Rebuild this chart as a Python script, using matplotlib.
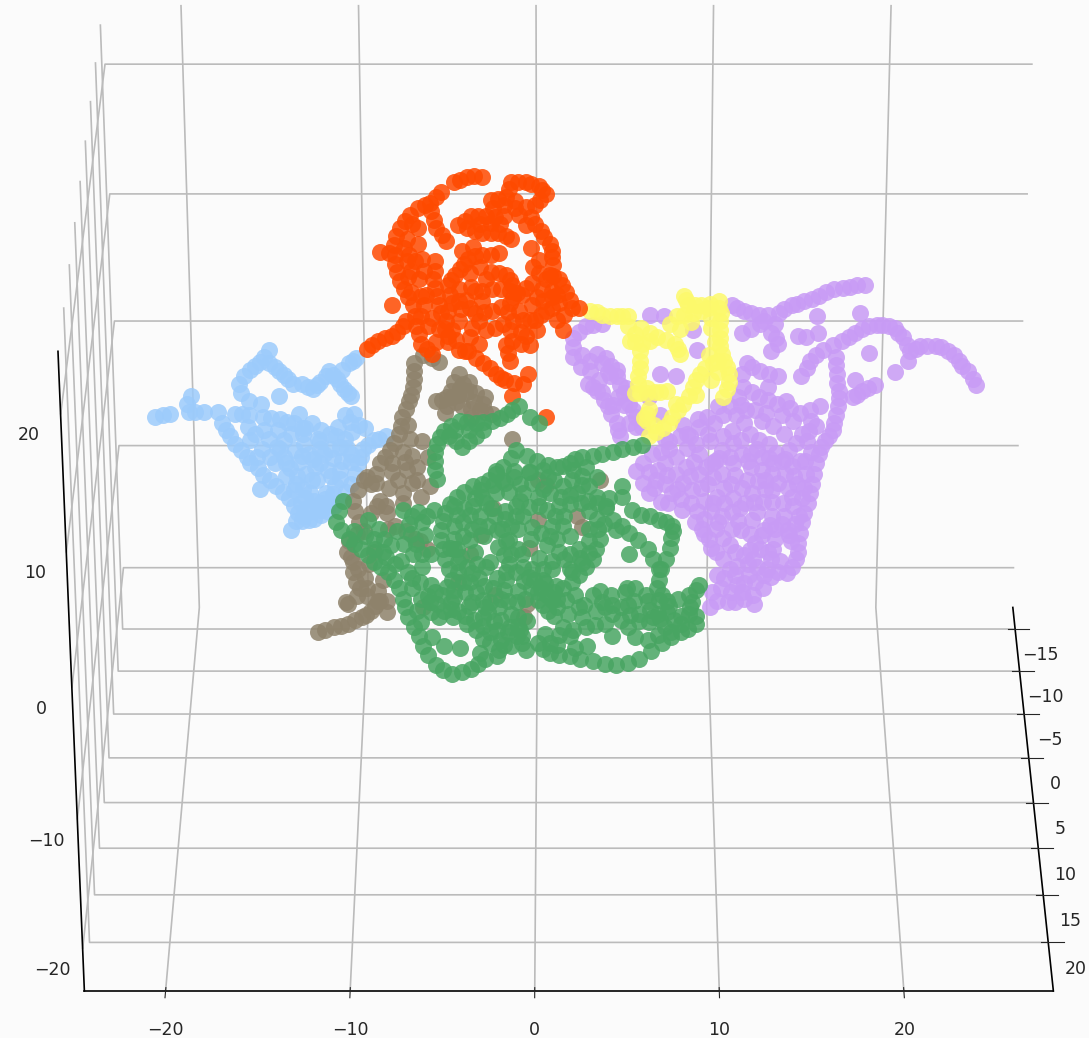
import matplotlib
matplotlib.use("Agg")
import matplotlib.pyplot as plt
import numpy as np

BG = "#fbfbfb"
x_ticks = [-20, -10, 0, 10, 20]
y_ticks = [-15, -10, -5, 0, 5, 10, 15, 20]
z_ticks = [-20, -10, 0, 10, 20]
plane_y = 0.0  # depth can't be read from one view, keep all points on one plane

# (x, z)
blue = [(-21.1,3.7),(-20.3,3.9),(-19.2,4.1),(-19.1,5.3),(-19.3,4.7),(-18.4,4.1),(-17.6,4.1),(-16.7,3.9),(-15.9,3.8),
        (-15.1,3.7),(-14.2,3.5),(-13.4,3.2),(-12.8,2.8),(-14.7,8.8),(-15.2,7.9),(-15.8,7.3),(-16.4,6.2),(-16.3,5.5),
        (-15.9,4.9),(-15.2,4.7),(-14.7,7.8),(-14.2,7.2),(-13.7,6.6),(-13.4,6.2),(-12.9,6.2),(-12.3,5.8),(-11.9,6.4),
        (-11.4,7.2),(-11,6.6),(-10.6,5.8),(-10.2,5.3),(-10.3,7.8),(-9.9,8.2),(-14.2,5.3),(-17.4,3.2),(-17,2.2),
        (-16.4,1.1),(-15.9,0.1),(-15.2,-0.8),(-14.5,-1.7),(-13.8,-2.6),(-13.3,-3.8),(-13.7,-5.1),(-13.1,-4.4),
        (-12.4,-4.2),(-11.7,-3.6),(-11,-2.8),(-10.3,-1.5),(-9.9,0.1),(-9.6,1.2),(-9,1.9),(-8.3,2.2),(-9.5,2.8),
        (-10.3,3.3),(-10.6,3.8),(-10.1,3.9),(-13.1,3.9),(-12.9,2.4),(-12.1,2),(-11.4,2.4),(-10.6,2),(-14.8,2),
        (-14.2,1.2),(-13.4,1.1),(-12.6,0.8),(-15.6,2.4),(-15.2,1.2),(-14.5,0.1),(-13.7,-0.3),(-12.8,-0.7),(-12,0.1),
        (-11.3,0.5),(-10.3,0.8),(-13.4,-1.5),(-12.6,-2.2),(-11.7,-2.2),(-10.9,-1.1),(-12.8,-3.4),(-12,-3),(-15.4,-1.9),
        (-11.4,1.2),(-20.7,3.8),(-18.9,4.1),(-16.3,3.9),(-14.7,3.6),(-13.8,3.3),(-15,8.3),(-15.5,7.6),(-16.1,6.8),
        (-14.4,7.5),(-13.9,6.9),(-12.6,6),(-12.1,6.1),(-11.6,6.8),(-11.2,6.9),(-10.8,6.2),(-10.4,5.5),(-10.1,8),(-10.7,7.3),
        (-17.2,2.7),(-16.7,1.6),(-16.1,0.6),(-15.5,-0.3),(-14.8,-1.2),(-14.1,-2.1),(-13.5,-3.2),(-13.4,-4.4),(-12.7,-4.3),
        (-12,-3.9),(-11.3,-3.2),(-10.6,-2.1),(-10.1,-0.7),(-9.7,0.6),(-9.3,1.5),(-8.7,2),(-9.8,3.1),(-11,2.9),(-12.4,3.2),
        (-13.6,2.4),(-14.3,2.7),(-15.1,2.7),(-16,2.9),(-15.9,1.9),(-14.8,0.6),(-14,0.6),(-13.2,0.2),(-12.3,-0.2),(-11.6,-0.4),
        (-10.8,0.3),(-10.5,1.3),(-12,1.2),(-12.9,1.6),(-13.9,-0.9),(-13,-1.9),(-12.2,-1.2),(-11.2,-1.6),(-13.1,-3),(-12.4,-2.8),
        (-11.6,-3),(-12.6,-3.6),(-11.8,-2.7),(-13.3,-0.9),(-12.4,0.4),(-11.8,0.8),(-13,0.7),(-13.9,0.1),(-14.4,1.4),(-15.5,0.6),
        (-13.5,-2),(-12.5,-1.2),(-11.4,-0.9),(-10.9,-0.4),(-10.3,0.2),(-12.2,-3.4),(-11.3,-2.3),(-12.9,-2.6),(-13,-4),(-12,-3.5),
        (-11.1,2.2),(-10.2,2.5),(-11.9,2.7),(-13,2.8),(-14,1.9),(-12,1.8),(-10.9,1.4)]

red = [(-2.9,21.8),(-3.7,21.8),(-4.4,21.4),(-5.1,20.7),(-5.7,19.9),(-6.4,19.5),(-7.1,18.5),(-7.6,17.4),(-7.7,16),
       (-7.6,14.7),(-7.2,13.4),(-6.7,12.2),(-6.6,10.6),(-6.3,9.3),(-5.7,8.5),(-5.7,19.3),(-5.4,18),(-4.9,17),(-8.5,16.2),
       (-7.9,12.2),(-9.3,8.9),(-8.7,9.5),(-7.9,9.9),(-7.3,10.6),(-5.5,15.5),(-5.6,14.2),(-5.4,12.9),(-5.2,11.6),(-4.8,11.8),
       (-4.6,10.3),(-4.2,8.8),(-3.7,8.7),(-2.9,7.8),(-2.2,7),(-1.7,6.5),(-0.7,6.2),(-1.3,5.3),(-0.4,7),(-4.2,18.2),(-3.5,18.9),
       (-2.7,18.9),(-2.2,18.8),(-2.4,20.1),(-1.6,20.3),(-1.3,21.4),(-0.5,21.4),(0.2,21.1),(0.6,20.5),(0,19.7),(-1.1,19.5),
       (-0.2,18.8),(0.3,17.8),(0.8,16.8),(0.9,15.8),(0.2,15.6),(-0.2,16.5),(0.8,14.5),(1.3,14.2),(1.7,13.2),(2,12),(2.4,12),
       (1.5,10.3),(1.2,11.1),(0.6,14.2),(-2.9,17.6),(-3.7,18),(-2,17.6),(-1.3,17.2),(-2.9,16),(-3.7,15.7),(-4.1,14.9),(-2,16.1),
       (-2.4,14.7),(-1.6,14.5),(-1.3,13.7),(-3.3,13.3),(-2.4,13.4),(-1.4,13.3),(-0.7,13),(-0.2,13.9),(-3.8,12.6),(-4.6,12.4),
       (-4.8,13.7),(-4.4,14.5),(-1.8,10.8),(-2.7,10.3),(-0.7,11.1),(0,11.1),(0.6,11.8),(-0.2,12.2),(-3.3,11.6),(-2.4,11.8),
       (-1.4,12.4),(-1.3,9.5),(-1.6,9.2),(-0.3,9.2),(-1.4,8),(0.1,10.3),(-6.1,12.2),(-5.9,10.6),(-6.6,15.5),(-6.4,14.2),
       (-7,15.5),(-6.3,12.9),(0.6,3.7),(-3.3,21.9),(-4.1,21.6),(-5.4,20.3),(-6,19.7),(-6.8,19),(-7.4,18),(-7.7,16.7),(-7.7,15.3),
       (-7.4,14),(-7,12.8),(-6.6,11.4),(-6.4,10),(-6,8.9),(-5.5,18.6),(-5.1,17.5),(-8,16.1),(-9,9.2),(-8.3,9.7),(-7.6,10.2),(-7.1,11),
       (-5.5,14.8),(-5.5,13.5),(-5.3,12.2),(-4.4,9.6),(-3.9,8.7),(-3.3,8.2),(-2.5,7.4),(-1.9,6.7),(-1.2,6.3),(-3.8,18.5),(-3.1,18.9),
       (-2.3,19.5),(-2,20.2),(-1.4,20.9),(-0.9,21.4),(-0.2,21.3),(0.4,20.8),(0.3,20.1),(-0.5,19.6),(-1.7,19.7),(0,18.3),(0.5,17.3),
       (0.9,16.3),(1,15.2),(1,14.4),(1.5,13.7),(1.9,12.6),(1.6,11.5),(0.9,12),(0.9,13.3),(0.2,14.6),(-3.3,17.8),(-2.4,17.6),(-1.6,17.4),
       (-3.3,15.9),(-3.9,15.3),(-2.4,16),(-2,14.6),(-1.4,14.1),(-2.9,13.3),(-1.9,13.4),(-1,13.1),(-0.5,13.5),(-4.2,12.5),(-4.7,13),(-4.6,14.1),
       (-2.2,10.5),(-1.2,11),(-0.3,11.1),(0.3,11.5),(-2.8,11.7),(-1.9,12.1),(-1.5,8.6),(-0.8,9.3),(-0.8,10.2),(-6.3,11.4),(-6,13),(-6.1,14.8),
       (-6.8,13.2),(-7,14.3),(-6.9,16),(-6.4,16.8),(-4,16.3),(-3.6,14.6),(-4.2,11),(-5,10.4),(-3.6,9.8),(-3.1,9.3),(-4.8,9.4),(-3.5,10.5),
       (-6.7,18.3),(-7,17.2),(-6.4,18),(-7.2,16.5),(-6.8,14.8),(-6.2,15.7),(-4.8,9.9),(-5.5,9.4),(-5.3,10.4),(-5.7,11.2),(-4.9,11),(-4.1,11.9),
       (-3.6,12),(-2.9,12.5),(-3.1,11),(-1.5,11.7),(-0.9,11.8),(-1.4,10.3),(-0.5,9.9),(-3.5,13.6),(-4.2,13.4),(-2.7,14.2),(-3,15.1),(-3.4,16.6),
       (-1.2,12.8),(0.1,12.8),(0.4,13.4),(0.4,12.5),(-1.9,18.3),(-2.4,18.4),(-1.7,18.9),(-0.9,19),(-0.5,18.2),(-3,18.3),(-1.1,20),(0.9,12.8),
       (1.3,12.4),(1.2,13),(-0.1,15.1)]

yellow = [(3,11.8),(3.7,11.5),(4.5,11.4),(5.1,11.4),(8.2,12.9),(8.4,12.2),(9.1,12.2),(10.1,12.5),(10.2,11.6),(10.2,10.3),
          (10.2,9.1),(10.4,8),(10.7,7),(10.6,5.8),(7.8,11.4),(8.7,11.6),(9.5,12),(5.8,10.5),(5.2,9.5),(5.9,9.3),(6.7,9.8),
          (7.7,9.3),(8,8.5),(5.8,8),(5.7,6.8),(5.8,5.5),(6.6,5.6),(7.3,5.7),(6.3,2.2),(7.1,2.8),(7.6,3.7),(8.2,4.7),(8.7,6),
          (9.1,7),(9.8,7.8),(6.2,3.9),(6.2,3.4),(7.8,4.7),(3.4,11.7),(4.1,11.4),(4.8,11.4),(8.3,12.6),(8.8,12.2),(9.6,12.3),(10.1,12),
          (10.2,11),(10.2,9.7),(10.3,8.5),(10.6,7.5),(10.7,6.4),(10.4,5.2),(8.2,11.5),(9.1,11.8),(5.5,10),(5.5,9.4),(6.3,9.5),(7.2,9.6),
          (7.9,8.9),(5.8,8.7),(5.8,7.4),(5.7,6.2),(6.2,5.5),(6.9,5.6),(6.7,2.5),(7.4,3.2),(7.9,4.2),(8.5,5.3),(8.9,6.5),(9.4,7.4),(10.1,8),
          (9.6,8.4),(9.9,9.4),(9.7,10.5),(9.7,11.2),(8,10.4),(8.6,10.9),(7.4,10.8),(6.3,10.1),(5.1,10.6),(6,3.6),(6.6,3.1),(6.3,4.3),(5.5,5.5),
          (6.2,5.9),(8.9,5.4),(9.7,6.5),(10.1,7.1)]

brown = [(-12.3,-13.2),(-11.4,-12.8),(-10.6,-12.5),(-9.8,-12),(-9.3,-11.5),(-8.9,-10.7),(-10.6,-10.9),(-10.1,-10.3),(-8.4,-10.7),
         (-10.3,-8.4),(-10.6,-6.8),(-10.1,-9.2),(-8.9,-9.9),(-9.6,-1.2),(-10.2,-2.8),(-9.9,-4.5),(-9.2,-1.5),(-8.7,0.1),(-8.1,1.1),
         (-7.6,2.4),(-7.4,3.7),(-7,4.9),(-6.8,6),(-6.7,7.8),(-6.2,8.4),(-5.3,7.9),(-4.6,5.2),(-3.7,5.7),(-2.8,5.2),(-4.1,4.5),
         (-3.1,4.2),(-2.4,3.9),(-5.5,4.9),(-4.9,5.2),(-4.2,7),(-3.7,6.4),(-6.3,1.8),(-6.6,-0.2),(-5.9,-1.7),(-7.7,-1.2),(-8.7,-2.8),
         (-7.9,-4.8),(-6.8,-5.8),(-6.1,-6.6),(-10.3,-7.6),(-9.6,-8.9),(-8.8,-10.7),(-8.4,-11.6),(-10.7,-10.8),(-6.4,-11.2),(-3.1,-5.5),
         (-0.4,-6.5),(0.1,-4.3),(0.6,-1.6),(3.6,-1.2),(2.3,-4),(2.6,-4.9),(-2.3,-10.2),(-0.5,-10.9),(-0.7,-12),(-2.4,-3.4),(-3.7,-7),
         (-1.3,2),(0.1,-1.2),(-4.4,-9.2),(-11.9,-13),(-11,-12.7),(-10.2,-12.2),(-9.6,-11.8),(-9.1,-11.1),(-9.5,-10.3),(-9.9,-9.7),(-10.4,-7.2),
         (-10.5,-6),(-10,-5.4),(-10.1,-3.6),(-9.9,-2),(-9.4,-1),(-8.9,-0.7),(-8.4,0.6),(-7.9,1.7),(-7.5,3),(-7.2,4.3),(-6.9,5.4),(-6.7,6.6),
         (-6.7,7.2),(-5.7,8.2),(-4.3,5.4),(-3.3,5.5),(-4.4,4.8),(-3.6,4.3),(-2.8,4.1),(-5.2,5),(-4,6.2),(-3.9,5.5),(-4.9,4.5),(-7.4,1),(-7,2),
         (-7.2,-0.4),(-6.9,0.7),(-8.2,-1.8),(-8.9,-1.4),(-9.2,-3.8),(-8.3,-3.8),(-7.4,-3),(-6.4,-2.5),(-8.3,-5),(-7.3,-5.2),(-6.5,-6),(-9.1,-6.8),
         (-9.4,-7.8),(-10,-8.2),(-9.5,-9.7),(-8.6,-9),(-6,0.6),(-7.1,3.1),(-9.6,-5.2),(-8.9,-3.2),(-8,-0.6),(-7.3,0.2),(-8,0.1),(-6.9,-1.4),(-7.4,-2.2),
         (-6.6,-1.2),(-8.4,-3.2),(-3.4,4.8),(-2.9,4.7),(-4.7,5.7),(-4.2,5.9),(-4.5,6.4),(-5,4),(-3.6,3.6)]

green = [(-0.9,4.5),(-1.6,3.9),(-2.4,3.4),(-3.3,3.2),(-4.2,3.4),(-5.1,2.6),(-5.5,1.6),(-5.6,0.3),(-5.5,-1.1),(-4.8,2.2),(-4.1,1.4),
         (-3.3,2.2),(-0.3,3.7),(0.2,3.2),(5.9,1.5),(4.8,1.2),(3.7,0.8),(2.6,0.6),(1.9,0.1),(1.2,-0.2),(0.1,0.3),(-1.1,1.1),(-1.8,-0.2),
         (-2.6,-1.2),(-3.5,-1.7),(-4.4,-2.5),(-5.1,-3.8),(-5.3,-5.1),(-5.2,-6.6),(-4.9,-8.2),(-4.1,-9.2),(2.6,-0.9),(3.4,-2.5),(4.3,-4.3),
         (5.2,-5.3),(6.3,-6.6),(6.9,-8.2),(6.8,-9.7),(7.1,-10.2),(4.8,-1.7),(4.8,-2.5),(5.9,-3.9),(6.9,-4.3),(7.6,-4.8),(7.6,-5.7),(7.3,-7.4),
         (3.6,-5.8),(3.2,-7.4),(2.4,-8.6),(1.5,-9.7),(0.6,-10.2),(-0.3,-9.7),(-1.1,-8.4),(-1.8,-7.1),(1.5,-1.7),(1.3,-3.2),(0.9,-4.8),(0.6,-6.3),
         (-0.2,-8.2),(-1.1,-3.2),(-1.4,-4.8),(-3.5,-3.2),(-4.1,-4.5),(-4.6,-5.8),(0.1,-2.5),(-2.2,-2.2),(-0.9,-1.5),(-3.3,-7.8),(-2.2,-8.9),
         (-3.7,-9.2),(-11.2,-4.5),(-10.8,-2.8),(-10.5,-5.8),(-9.8,-6.6),(-9.1,-7.6),(-8.3,-8.4),(-7.7,-9.7),(-7.4,-11.2),(-6.9,-12.8),(-6.4,-14.3),
         (-5.7,-15.8),(-4.8,-16.5),(-3.7,-16.1),(-2.9,-15.3),(-9.4,-4.3),(-8.1,-6.3),(-7.4,-3.5),(-6.4,-4.5),(-5.7,-3.5),(-9.1,-5.8),(-7,-8.9),
         (-5.3,-10.2),(-4.4,-11.5),(-3.5,-12.2),(-2.6,-13.2),(-1.4,-14.3),(-2,-12.2),(-1.1,-13.5),(-2.2,-15.1),(-2.6,-14),(-5.2,-11.5),(-5.9,-9.4),
         (-1.6,-13.2),(-5.2,-14.3),(-5.9,-13.6),(-4.3,-14.4),(0.1,-14),(0.8,-14.8),(1.9,-15.1),(3.2,-15.5),(4.5,-15.8),(5.8,-15.3),(7.1,-14),
         (8.2,-13.2),(9,-12.5),(8.6,-11.7),(7.8,-12.2),(7.4,-10.7),(8.6,-10.2),(9.2,-9.4),(6.3,-10.7),(5.8,-11.7),(4.3,-11.7),(3.2,-10.2),(2.4,-11.2),
         (2.8,-12.8),(1.5,-12.8),(5.6,-9.7),(5.1,-9.7),(6.9,-11.7),(5.2,-12.8),(4.3,-13.5),(7.6,-13.2),(6.3,-13.8),(3.6,-9.9),(3.9,-11.2),(0.8,-14),
         (1.9,-13.5),(-1.6,-10.7),(-1.4,-11.7),(1.2,-11.2),(-2.2,-5.1),(-0.3,-5.8),(0.4,-8.2),(1.9,-8.2),(2.4,-6.6),(1.3,-6.8),(-2.6,-7.6),(-4.4,-7.6),
         (-2.7,-4.8),(-3.1,-4),(-0.7,-4),(2.3,-2.2),(2,-1.2),(3.9,-3.2),(4.5,-5.1),(-0.7,-2.2),(0.6,-3.5),(-2.2,-0.5),(5.2,-7),
         (-1.3,4.2),(-2,3.6),(-2.9,3.3),(-3.8,3.3),(-4.7,3),(-5.3,2.1),(-5.6,1),(-5.6,-0.4),(-4.4,1.8),(-3.7,1.8),(-2.9,2.7),(-3.7,2.7),(-4.5,2.7),
         (5.4,1.4),(4.3,1),(3.2,0.7),(2.2,0.4),(1.5,-0.1),(0.7,0),(-0.5,0.7),(-1.4,0.5),(-2.2,-0.7),(-3,-1.5),(-4,-2.1),(-4.8,-3.1),(-5.2,-4.4),(-5.3,-5.9),
         (-5.1,-7.4),(3,-1.7),(3.9,-3.4),(4.8,-4.8),(5.7,-5.9),(6.6,-7.4),(6.9,-9),(5.4,-3.5),(6.4,-4),(7.3,-4.5),(7.7,-5.2),(7.5,-6.5),(7,-8.2),
         (3.5,-5),(3.4,-6.6),(2.8,-8),(2,-9.2),(1,-10),(0.1,-10),(-0.7,-9.1),(-1.5,-7.8),(-2.1,-6.4),(1.4,-2.5),(1.1,-4),(0.8,-5.6),(0.2,-7.3),(-0.1,-9),
         (-11,-3.6),(-10.9,-5.1),(-10.2,-6.2),(-9.4,-7.1),(-8.7,-8),(-8,-9),(-7.5,-10.5),(-7.2,-12),(-6.6,-13.5),(-6.1,-15),(-5.3,-16.2),(-4.2,-16.4),(-3.3,-15.7),
         (-8.8,-5),(-8.6,-6.8),(-7.8,-5.2),(-6.9,-4),(-6.1,-4),(-7.6,-7.5),(-6.5,-9.2),(-6.1,-10.3),(-4.8,-10.8),(-4,-11.9),(-3,-12.7),(-2,-13.8),(-0.8,-14),
         (-1.5,-12.8),(-2.7,-11.6),(-3.6,-10.8),(-4.6,-9.8),(-3,-13.7),(-3.2,-14.8),(-2.1,-14.6),(-0.9,-13),(-1,-12),(-2.6,-10.8),(-3.4,-10),(-6.4,-8),(-6.9,-7),
         (-7,-5.4),(-6.2,-5.5),(-5.9,-7),(-6,-10.8),(-5.5,-12),(0.4,-14.5),(1.3,-15),(2.5,-15.3),(3.9,-15.7),(5.2,-15.6),(6.5,-14.7),(7.6,-13.6),(8.6,-12.9),(9,-11.9),
         (8.2,-11.9),(8,-10.5),(9,-9.8),(6.9,-10.6),(5.5,-10.7),(4.8,-11.2),(3.7,-10.8),(2.7,-11),(2.6,-12),(2.1,-13),(3.3,-12.6),(3.9,-12.5),(4.8,-12.2),(5.8,-12.3),
         (6.4,-12.4),(7.3,-12.8),(6.9,-13.4),(5.6,-13.6),(2.9,-14.3),(1.3,-13.4),(0.5,-13.3),(8.2,-12.5),(7.4,-11.6),(6.4,-11.4),(5,-10),(4.2,-10.2),
         (-4,-3.4),(-3,-2.5),(-1.7,-1.4),(-0.3,-0.6),(0.7,-1),(2.1,-0.4),(2.9,-2.8),(3.4,-4.2),(0.4,-1.9),(-1.7,-3.6),(-3.7,-5.9),(-3.4,-6.8),(-0.8,-7),(-1.5,-5.9),
         (0.9,-7.5),(1.6,-7.4),(2.5,-7.3),(-2.9,-9.5),(-1.8,-9.8),(-0.6,-10.5),(0.4,-11),(1.2,-10.5),(-3.6,-8.5),(-4.4,-6.6),(-0.4,-3.3),(-4.8,-6.5),(-2.5,-3.4),(0.3,-5.3),
         (-1.2,-0.5),(-0.4,-0.6),(0.4,-0.4),(2.8,-0.2),(3.4,-1),(-1.9,-1.2),(-1.2,-1),(-0.2,-1.4),(1,-1.2),(2.6,-1.6),(-3.1,-2),(-2.4,-1.6),(-1.5,-2.1),(0.8,-2.2),(1.9,-2.4),
         (3.4,-3),(4.1,-2.6),(-4.6,-3.2),(-3.4,-2.6),(-2.8,-3),(-0.9,-2.8),(0.2,-3.2),(1.9,-3.1),(2.5,-3),(-4.4,-3.9),(-3.7,-3.9),(-2.3,-4),(-1.7,-4.2),(-1.1,-4),(1.6,-4),(3,-3.6),
         (-4.6,-4.8),(-3.6,-5),(-3.2,-4.8),(-1.9,-5),(-1,-5),(-0.2,-4.9),(1.5,-4.8),(3,-5),(3.8,-4.6),(-4.6,-6.6),(-4.1,-5.6),(-2.9,-5.6),(-1.7,-6),(1.9,-5.6),(1.2,-5.8),(3,-6),
         (-4.2,-7.2),(-1.4,-7),(-1,-6.6),(1.9,-7),(3,-6.9),(-4.4,-8.4),(-3.9,-8),(-2.8,-8),(-1.7,-8.4),(-0.7,-8),(0.9,-8.2),(2.6,-7.7),(-4.7,-9),(-3.2,-8.9),(-1.7,-9),(-0.4,-8.8),
         (0.4,-9),(0.5,-9.3),(2,-8.4),(-5,-9.6),(-4,-10),(-2.4,-9.7),(-1,-9.9),(0.3,-9.7),(1.1,-9.5),(-5.7,-10),(-4.6,-10.4),(-3,-10.6),(-2,-10.5),(-1.1,-10.8),(0.1,-10.6),(0.9,-10.6),
         (1.7,-10.6),(2.2,-10.2),(-5.6,-10.9),(-4.8,-11.3),(-3.8,-11.1),(-2.9,-11.2),(-2.1,-11.2),(0.7,-11.5),(-4.7,-12),(-3.9,-12.5),(-3,-12),(-2.4,-12.3),(-1,-12.7),(-0.5,-12.3),(1,-11.9),
         (-3.4,-13),(-2.2,-13),(-0.8,-13.5),(-1.8,-14.2),(-0.6,-14.6),(-10.2,-5.2),(-9.6,-5.6),(-9,-6.6),(-8.4,-7.2),(-7.9,-7.8),(-7.2,-8.4),(-7,-9.7),(-6.5,-10.5),(-6.7,-11.5),(-5.9,-11.6),
         (-6.5,-12.4),(-8.5,-5.8),(-7.4,-6.2),(-6.7,-6.2),(-6.4,-7),(-7.1,-4.6),(-6.6,-3.7),(1.8,-11.7),(3.4,-11.5),(4.3,-11),(5.2,-11),(5.3,-11.8),(6.2,-10.2),(7.5,-11.1),(6.6,-12),(7,-12.1),
         (8.7,-11.2),(8.8,-10.8),(1.2,-14.2),(2.2,-14.4)]

purple = [(18.1,13.7),(17.3,13.6),(16.4,13.4),(15.6,12.9),(14.8,12.5),(14.1,12.2),(13.4,11.6),(13.2,10.8),(10.8,12.2),(11.5,11.8),(12.3,11.5),
          (12.8,11.5),(12.4,10.8),(11.4,10.1),(13,10.1),(13.4,9.3),(13,8.7),(14.5,9.9),(14.9,9.8),(15.6,10.1),(15.5,11.4),(24.4,6.1),(23.9,7.2),
          (23.4,8),(22.8,8.7),(22.1,9.1),(21.2,9.1),(20.7,8.7),(20.3,9.8),(19.8,10.5),(19.1,10.7),(18.4,10.6),(17.6,10.1),(16.9,9.5),(15.9,8.8),
          (15.2,8),(14.7,6.8),(20.6,8),(19.9,7.1),(18.4,8.6),(17.9,11.6),(18.8,6.1),(18.1,5.7),(17.6,5.2),(17.7,6.5),(16.6,8.3),(16.7,7),(16.8,5.7),
          (16.8,4.5),(16.6,3.2),(16.3,2.2),(15.9,1.4),(15.6,0.1),(15.4,-1.5),(15.2,-3),(14.9,-4.5),(14.7,-6.1),(14.6,-7.4),(14.1,-8.5),(2.1,8.3),
          (2.1,9.7),(2.8,10.6),(3.7,10.8),(3.4,8.5),(2.9,6.2),(3.7,7.8),(4.5,6.8),(4,4.5),(4.5,3.2),(4.7,2.2),(4.9,5.5),(5.6,3.7),(5.9,2.9),(3.4,5.7),
          (5.2,4.7),(6.3,11.5),(7.1,11.4),(8.7,10.3),(8.9,8.8),(6.9,7),(7.8,6.8),(6.3,5.2),(6.9,3.8),(11.7,7.8),(12.4,7.2),(13.4,6.8),(11.5,6),(12.4,5.2),
          (13.4,4.7),(13.9,4.9),(11.7,4.2),(10.8,4.5),(10.1,4.5),(9.5,3.7),(12.6,3.4),(14.3,3.4),(15.2,4.2),(15.8,4.5),(15.2,2.6),(15.1,1.8),(8.4,2.4),
          (7.4,1.8),(9.1,2.9),(10.9,2.6),(11.9,2.4),(13,1.6),(12.6,0.6),(14.1,1.1),(6.5,0.8),(7.8,0.6),(9.1,0.8),(10.4,1.1),(11.5,0.8),(14.7,0.3),(5.6,-0.5),
          (6.7,-1.2),(7.8,-0.7),(9.1,-0.7),(10.4,-0.7),(12.8,-1.2),(13.9,-0.7),(15.1,-0.7),(6.3,-2.2),(7.6,-2.2),(8.7,-2),(10.1,-2.5),(12.1,-2.2),(13.2,-2),
          (14.3,-2.5),(8.2,-3.5),(8.9,-4.5),(10.4,-4),(11.7,-3),(13.2,-4),(14.7,-4),(12.8,-5.1),(11.5,-5.1),(14.1,-5.1),(9.7,-5.8),(10.9,-6.3),(12.3,-6.1),
          (13.4,-5.8),(11.7,-7.1),(10.1,-6.8),(13,-6.8),(10.9,-8.2),(11.9,-7.8),(13,-8.2),(10.2,-8.6),(10.4,-9.7),(11.3,-9.4),(12.3,-9.2),(13.2,-8.8),(10.8,-10.8),
          (11.7,-10.5),(12.3,-10.9),(9.8,-11.2),(17.7,13.7),(16.9,13.5),(16,13.2),(15.2,12.7),(14.4,12.3),(13.7,11.9),(11.1,12),(11.9,11.6),(12.6,11),(11.9,10.4),
          (13.3,9.7),(23.6,7.6),(24.2,6.6),(23.1,8.4),(22.4,9),(21.6,9.1),(21,8.9),(20.5,9.2),(20,10.1),(19.5,10.6),(18.8,10.7),(18,10.4),(17.3,9.8),(16.4,9.2),
          (15.5,8.4),(15,7.4),(18.4,5.9),(17.8,5.4),(16.6,7.7),(16.7,6.3),(16.8,5.1),(16.7,3.8),(16.5,2.7),(16.1,1.8),(15.8,0.8),(15.5,-0.7),(15.3,-2.2),(15,-3.8),
          (14.8,-5.3),(14.7,-6.8),(14.4,-8),(2.1,9),(2.4,10.2),(3.2,10.7),(2.5,7.5),(3,7.2),(3.5,6.5),(4.1,6.8),(3.7,5.6),(3.8,5),(4.2,3.9),(4.6,2.7),(4.6,5.2),(5.2,3.2),
          (4.2,7.6),(4.7,6.1),(5,5.9),(5.4,4.2),(5.6,2.9),(12,7.5),(12.9,7),(12,5.6),(12.9,5),(11.4,7),(11.2,5.2),(11.1,3.8),(10.4,3.8),(9.9,3.2),(9,3.5),(8.2,3.1),(7.2,2),
          (11.6,3.2),(12.2,4.2),(13.2,3),(13.8,2.4),(14.8,2.4),(15.6,3),(14.7,4),(15.3,3.4),(14.5,1.7),(15.3,1),(13.7,0.3),(7,1),(8.4,1.3),(9.7,1.8),(10,0.3),(11,1.7),
          (12.3,1.2),(13.4,0.9),(6,0.1),(6.8,-0.4),(8.4,-0.2),(9.8,0.1),(11,0.1),(12,-0.2),(13.2,0.1),(14.3,-0.1),(15,0.3),(6,-1.4),(7.2,-1.5),(8.2,-1.4),(9.6,-1.5),(10.9,-1.5),
          (12.4,-1.3),(13.5,-1.4),(14.6,-1.5),(7,-2.9),(8.1,-2.7),(9.4,-2.8),(11,-2.6),(12.7,-2.9),(13.8,-3),(14.9,-2.6),(9,-3.6),(9.8,-3.6),(11,-3.7),(12.4,-3.7),(13.9,-4),
          (9.3,-5),(10.1,-5),(11,-5),(13.4,-5),(14.3,-6),(13.3,-6.6),(12.6,-6.6),(11.2,-6.8),(10.5,-7.4),(9.8,-6.5),(11.3,-7.9),(12.4,-8),(13.7,-7.5),(13.6,-8.4),(10.6,-8.9),
          (11.7,-9.3),(12.8,-9.7),(11,-10),(10.2,-10.7),(11.2,-10.8),(9.9,-10),(8,2.2),(9.6,2.4),(10.4,2.2),(11.4,1.9),(12.4,1.9),(7.4,1.2),(8.9,1.6),(10.2,0.5),(12,0.9),(13,0.5),
          (7.2,0.1),(8.8,0.2),(9.5,-0.2),(10.8,0.6),(11.8,0.3),(12.6,-0.4),(13.9,0.4),(6.3,-0.6),(7.3,-0.8),(8.6,-0.9),(9.9,-1),(11.1,-0.8),(11.8,-1.2),(13.2,-0.7),(14.4,-0.9),
          (6.6,-1.8),(7.9,-1.9),(9.2,-1.8),(10.5,-1.8),(11.5,-1.8),(12.8,-1.9),(14.1,-1.8),(15,-1.8),(7.4,-3),(8.7,-3),(9.9,-3),(10.5,-3),(11.4,-3.4),(12.2,-2.9),(13.2,-2.9),(14.4,-3.2),
          (9.4,-4.2),(10.2,-4.5),(11.3,-4.4),(12.1,-4.3),(13.1,-4.7),(13.8,-4.6),(14.5,-4.6),(9.4,-5.4),(10.5,-5.7),(12,-5.4),(12.7,-5.5),(14.2,-5.5),(12,-6.7),(13.2,-7.4),(12.2,-7.4),
          (11.2,-8.6),(12,-8.6),(12.8,-8.6),(11.6,-10),(12.2,-10.2),(12.9,6),(12.8,4),(11.4,4.6),(13.7,3.8),(14.1,4.4),(8.6,2.2),(4,7.1),(3.2,6),(4.9,4.6),(4.3,4.6),(4.5,7.3),(3.9,8.2),(3,8),(2.6,8.4)]

# drawn bottom to top
series = [(blue, "#9ccbfb"), (purple, "#c89bf5"), (yellow, "#fdf96b"), (brown, "#8e826b"), (red, "#ff4a00"), (green, "#48a562")]

fig = plt.figure(figsize=(10.89, 10.38), dpi=100, facecolor=BG)
ax = fig.add_axes([0.0095, 0.016, 1.0, 1.0], projection="3d", facecolor=BG, computed_zorder=False)
ax.set_proj_type("persp", focal_length=1.26)
ax.view_init(elev=30, azim=-90)
ax.set_xlim(-24.4, 28.1)
ax.set_ylim(25, -17.6)
ax.set_zlim(-23.3, 24.5)
ax.set_box_aspect((1.3, 1.0, 0.98), zoom=1.306)

for i, (pts, col) in enumerate(series):
    arr = np.array(pts)
    ax.scatter(arr[:, 0], np.full(len(arr), plane_y), arr[:, 1], s=150, c=col, alpha=0.85, linewidths=0, depthshade=False, zorder=3 + i)

ax.set_xticks(x_ticks)
ax.set_yticks(y_ticks)
ax.set_zticks(z_ticks)
ax.tick_params(labelsize=12.5, colors="#262626")
ax.zaxis.set_ticks_position("upper")
ax.zaxis._axinfo["tick"]["inward_factor"] = 0
ax.zaxis._axinfo["tick"]["outward_factor"] = 0
for a in (ax.xaxis, ax.yaxis, ax.zaxis):
    a.set_pane_color((1, 1, 1, 0))
    a.pane.set_edgecolor("#b8b8b8")
    a._axinfo["grid"]["color"] = "#bbbbbb"
    a._axinfo["grid"]["linewidth"] = 1.2
    a._axinfo["axisline"]["color"] = "#333333"
    a.line.set_linewidth(1.2)
fig.savefig("out.png", dpi=100, facecolor=BG)
